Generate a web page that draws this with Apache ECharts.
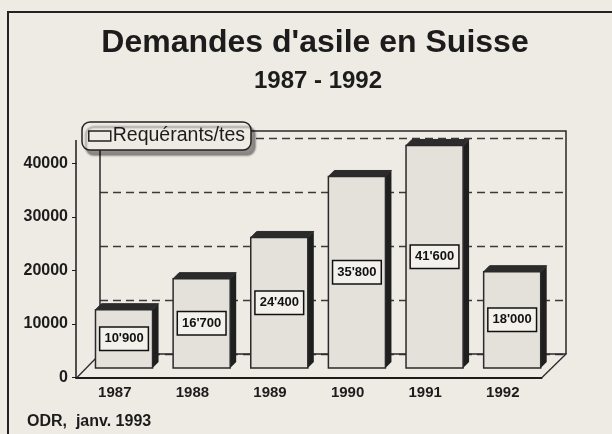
<!DOCTYPE html>
<html>
<head>
<meta charset="utf-8">
<script src="https://cdn.jsdelivr.net/npm/echarts@6/dist/echarts.min.js"></script>
<style>
  html, body { margin: 0; padding: 0; background: #eeebe5; }
  #chart { width: 612px; height: 434px; }
</style>
</head>
<body>
<div id="chart"></div>
<script>
// data
const years = ['1987', '1988', '1989', '1990', '1991', '1992'];
const requests = [10900, 16700, 24400, 35800, 41600, 18000];
const yTicks = [0, 10000, 20000, 30000, 40000];
const seriesName = 'Requérants/tes';

const font = '"Liberation Sans", Arial, sans-serif';
const ink = '#1c1c1c';
const paper = '#eeebe5';

// 10900 -> 10'900
const fmt = v => String(v).replace(/\B(?=(\d{3})+(?!\d))/g, "'");

// 3D-looking bar: front face + dark top and right side
function renderBar(params, api) {
  const base = api.coord([api.value(0), 0]);
  const top = api.coord([api.value(0), api.value(1)]);
  const w = api.size([1, 0])[0] * 0.735;
  const x0 = base[0] - w / 2, x1 = base[0] + w / 2;
  const d = 6;
  return {
    type: 'group',
    children: [
      { type: 'polygon', shape: { points: [[x1, top[1]], [x1 + d, top[1] - d], [x1 + d, base[1] - d], [x1, base[1]]] },
        style: { fill: '#1f1f1f' } },
      { type: 'polygon', shape: { points: [[x0, top[1]], [x0 + d, top[1] - d], [x1 + d, top[1] - d], [x1, top[1]]] },
        style: { fill: '#2b2b2b', stroke: '#2b2b2b', lineWidth: 1 } },
      { type: 'rect', shape: { x: x0, y: top[1], width: w, height: base[1] - top[1] },
        style: { fill: '#e4e1db', stroke: '#2a2a2a', lineWidth: 1.5 },
        textContent: {
          style: {
            text: fmt(api.value(1)), fontFamily: font, fontWeight: 'bold', fontSize: 13, fill: '#111',
            backgroundColor: '#f3f1ec', borderColor: '#111', borderWidth: 1.5, padding: [5, 4, 4, 4]
          }
        },
        textConfig: { position: 'inside' } }
    ]
  };
}

const chart = echarts.init(document.getElementById('chart'));
chart.setOption({
  backgroundColor: paper,
  animation: false,
  textStyle: { fontFamily: font, color: ink },
  title: [
    { text: 'Demandes d\'asile en Suisse', left: 315, top: 27, textAlign: 'center', padding: 0,
      textStyle: { fontSize: 32, fontWeight: 'bold', color: ink, fontFamily: font, lineHeight: 32 } },
    { text: '1987 - 1992', left: 318, top: 69, textAlign: 'center', padding: 0,
      textStyle: { fontSize: 24, fontWeight: 'bold', color: ink, fontFamily: font, lineHeight: 24 } },
    { text: 'ODR,  janv. 1993', left: 27, top: 414, padding: 0,
      textStyle: { fontSize: 16, fontWeight: 'bold', color: ink, fontFamily: font, lineHeight: 16 } }
  ],
  legend: {
    left: 82, top: 122, padding: [4, 6, 4, 6], itemGap: 0,
    itemWidth: 22, itemHeight: 10,
    backgroundColor: paper, borderColor: '#222', borderWidth: 1.5, borderRadius: 8,
    shadowColor: 'rgba(0,0,0,0.4)', shadowBlur: 2, shadowOffsetX: 4, shadowOffsetY: 5,
    textStyle: { fontSize: 19.5, color: ink, fontFamily: font, lineHeight: 20, padding: [0, 0, 0, -3] },
    data: [{ name: seriesName, icon: 'rect',
      itemStyle: { color: 'rgba(0,0,0,0)', borderColor: '#222', borderWidth: 1.5 } }]
  },
  grid: [
    // front axis (labels, floor front edge)
    { left: 76, right: 70.4, top: 163.5, bottom: 56.5 },
    // back wall with dashed grid
    { left: 100, right: 46, top: 138, bottom: 80 },
    // bars, placed in the depth between front and back
    { left: 85.2, right: 61, top: 154, bottom: 66 }
  ],
  xAxis: [
    { gridIndex: 0, type: 'category', data: years,
      axisLine: { lineStyle: { color: ink, width: 2 } }, axisTick: { show: false },
      axisLabel: { color: ink, fontSize: 15, fontWeight: 'bold', fontFamily: font, margin: 8 } },
    { gridIndex: 1, type: 'category', data: years,
      axisLine: { lineStyle: { color: '#2a2a2a', width: 1.5 } }, axisTick: { show: false }, axisLabel: { show: false } },
    { gridIndex: 2, type: 'category', data: years, show: false }
  ],
  yAxis: [
    { gridIndex: 0, type: 'value', min: yTicks[0], max: yTicks[yTicks.length - 1], interval: 10000,
      axisLine: { show: true, lineStyle: { color: ink, width: 1.5 } },
      axisTick: { show: true, length: 4, lineStyle: { color: ink } },
      axisLabel: { color: ink, fontSize: 16, fontWeight: 'bold', fontFamily: font, margin: 8,
        formatter: v => String(v) },
      splitLine: { show: false } },
    { gridIndex: 1, type: 'value', min: yTicks[0], max: yTicks[yTicks.length - 1], interval: 10000,
      axisLine: { show: false }, axisTick: { show: false }, axisLabel: { show: false },
      splitLine: { show: true, lineStyle: { color: '#3a3a3a', width: 1.3, type: [8, 5] } } },
    { gridIndex: 2, type: 'value', min: 0, max: 40000, show: false }
  ],
  graphic: [
    // back wall outline
    { type: 'polyline', z: 1, shape: { points: [[100, 354], [100, 131], [566, 131], [566, 354]] },
      style: { stroke: '#2a2a2a', lineWidth: 1.5, fill: null } },
    // floor sides
    { type: 'line', z: 1, shape: { x1: 77, y1: 377.5, x2: 100, y2: 354 }, style: { stroke: '#2a2a2a', lineWidth: 1.3 } },
    { type: 'line', z: 1, shape: { x1: 542, y1: 377.5, x2: 566, y2: 354 }, style: { stroke: '#2a2a2a', lineWidth: 1.3 } },
    // front axis above the last tick
    { type: 'line', z: 1, shape: { x1: 76, y1: 164, x2: 76, y2: 140 }, style: { stroke: ink, lineWidth: 1.5 } },
    // outer frame
    { type: 'polyline', z: 1, shape: { points: [[8, 434], [8, 12], [612, 12]] },
      style: { stroke: '#222', lineWidth: 2, fill: null } }
  ],
  series: [{
    name: seriesName,
    type: 'custom',
    xAxisIndex: 2, yAxisIndex: 2,
    renderItem: renderBar,
    encode: { x: 0, y: 1 },
    data: years.map((y, i) => [y, requests[i]])
  }]
});
</script>
</body>
</html>
